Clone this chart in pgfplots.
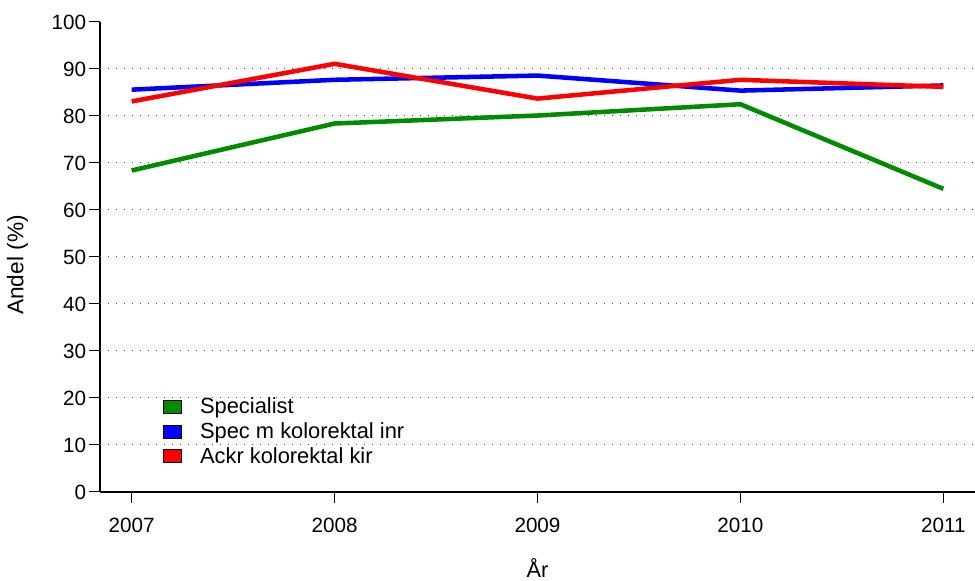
\documentclass[border=0pt]{standalone}
\usepackage{fontspec}
\setmainfont{Liberation Sans}
\usepackage{pgfplots}
\pgfplotsset{compat=1.18}
\definecolor{rgreen}{RGB}{0,139,0}
\definecolor{rblue}{RGB}{0,0,255}
\definecolor{rred}{RGB}{255,0,0}
\begin{document}
\begin{tikzpicture}
\begin{axis}[
  scale only axis,
  width=656.25pt, height=352.5pt,
  xmin=2006.844, xmax=2011.156,
  ymin=0, ymax=100,
  axis x line*=bottom, axis y line*=left,
  axis line style={line width=0.9pt},
  tick align=outside,
  major tick length=8.25pt,
  every tick/.style={black, line width=0.75pt},
  xtick={2007,2008,2009,2010,2011},
  ytick={0,10,...,100},
  extra y ticks={10,20,...,90},
  extra y tick style={grid=major, major tick length=0pt, yticklabels={}},
  major grid style={black!70, line width=0.75pt, dash pattern=on 0.75pt off 5.25pt},
  /pgf/number format/assume math mode=true,
  /pgf/number format/1000 sep={},
  tick label style={font=\fontsize{15.5}{18}\selectfont},
  xticklabel style={anchor=base, yshift=-22pt},
  yticklabel style={anchor=east, inner sep=0pt, xshift=-2pt},
  xlabel={År}, ylabel={Andel (\%)},
  xlabel style={font=\fontsize{16.3}{19}\selectfont, at={(axis description cs:0.5,0)}, anchor=base, yshift=-64.5pt},
  ylabel style={font=\fontsize{17}{20}\selectfont, at={(axis description cs:-0.0877,0.483)}, anchor=base, rotate=0},
  legend style={at={(rel axis cs:0.072,0.207)}, anchor=north west, draw=none, fill=none,
    font=\fontsize{16.4}{19}\selectfont, inner sep=0pt, row sep=1.3pt,
    /tikz/every even column/.append style={column sep=0pt}},
  legend cell align=left,
  legend image code/.code={\draw[#1, line width=0.6pt, draw=black, fill] (0pt,-4.875pt) rectangle (13.5pt,4.875pt);},
  clip=false,
]
\addplot[color=rgreen, line width=3.4pt, line join=round] coordinates {
  (2007,68.4) (2008,78.4) (2009,80.1) (2010,82.5) (2011,64.5)};
\addlegendentry{\hspace{11.5pt}Specialist}
\addplot[color=rblue, line width=3.4pt, line join=round] coordinates {
  (2007,85.6) (2008,87.7) (2009,88.6) (2010,85.4) (2011,86.5)};
\addlegendentry{\hspace{11.5pt}Spec m kolorektal inr}
\addplot[color=rred, line width=3.4pt, line join=round] coordinates {
  (2007,83.1) (2008,91.1) (2009,83.7) (2010,87.7) (2011,86.2)};
\addlegendentry{\hspace{11.5pt}Ackr kolorektal kir}
\end{axis}
\pgfresetboundingbox
\path[use as bounding box] (-75pt,-66.75pt) rectangle (656.25pt,369pt);
\end{tikzpicture}
\end{document}
